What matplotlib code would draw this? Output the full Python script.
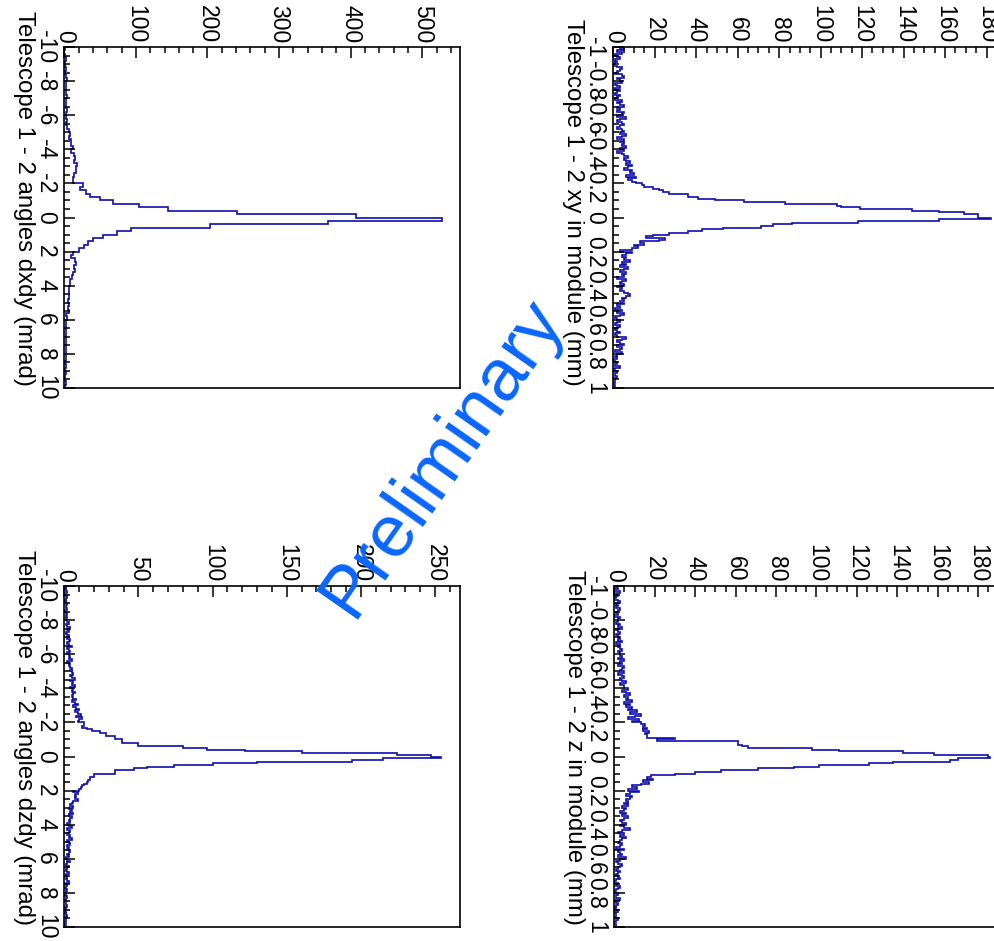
import numpy as np
import matplotlib
matplotlib.use("Agg")
import matplotlib.pyplot as plt
import matplotlib.transforms as mtransforms
from matplotlib.ticker import FixedLocator, MultipleLocator

plt.rcParams['font.family'] = ['Liberation Sans', 'DejaVu Sans']

# histogram contents (counts per bin)
xy_counts = [3, 5, 2, 4, 1, 2, 3, 1, 2, 1, 0, 2, 4, 3, 2, 1, 4, 5, 2, 3, 4, 1,
             2, 3, 1, 3, 2, 1, 3, 2, 1, 4, 2, 3, 5, 2, 3, 2, 5, 4, 2, 6, 3, 2,
             4, 5, 3, 2, 4, 5, 3, 6, 4, 2, 5, 3, 5, 4, 6, 3, 5, 2, 4, 5,
             7, 5, 6, 8, 6, 9, 7, 5, 9, 8, 10, 6, 11, 7, 9,
             11, 14, 15, 19, 22, 24, 27, 36, 36, 41, 49, 63, 83, 108, 110, 119,
             144, 157, 169, 176, 176, 182,
             157, 118, 86, 77, 71, 53, 43, 36, 27, 19, 16, 25, 22, 13, 15, 10,
             12, 9, 3, 9, 6, 4, 6,
             5, 8, 4, 6, 3, 7, 5, 3, 6, 4, 5, 2, 6, 4, 3, 5, 2, 4, 3, 5, 7, 8, 6,
             4, 5, 3, 5, 2, 3, 1, 4, 2, 5, 3, 1, 2, 3, 2, 1, 3, 2, 1, 2, 3, 1, 2,
             6, 4, 2, 3, 5, 2, 4, 3, 1, 4, 2,
             1, 2, 0, 1, 2, 1, 3, 1, 0, 2, 1, 1, 2, 0, 1, 1, 0, 1, 1]

z_counts = [1, 2, 0, 3, 1, 2, 1, 0, 2, 3, 1, 2, 1, 3, 2, 1, 2, 0, 3, 2,
            2, 1, 3, 2, 4, 1, 2, 3, 1, 2, 3, 2, 4, 1, 3, 2, 3, 4, 2, 3,
            3, 4, 2, 5, 3, 4, 2, 5, 4, 3, 5, 2, 4, 5, 3, 4, 6, 3, 5,
            5, 7, 4, 6, 8, 5, 7, 6, 9, 5, 8, 6, 9, 7, 11, 8, 13, 10, 7, 12, 9,
            13, 15, 14, 16, 14, 17, 15, 16, 16, 30, 21, 61, 61, 63, 66, 98,
            111, 143, 158, 185, 186,
            170, 166, 138, 126, 101, 89, 71, 53, 40, 30, 18, 16, 19, 14, 17,
            13, 9, 11, 7, 12, 8, 6, 9,
            8, 6, 7, 5, 7, 4, 6, 5, 3, 6, 4, 7, 5, 3,
            4, 6, 3, 5, 8, 4, 2, 5, 3, 6, 4, 3,
            2, 4, 3, 1, 5, 2, 3, 4, 2, 6, 3, 1, 2, 4, 3, 2, 1, 3, 2,
            1, 2, 3, 1, 0, 2, 1, 3, 2, 1, 0, 2, 1, 1, 3, 0, 1, 2, 1, 0, 1, 2,
            0, 1, 1, 0, 2, 1, 0, 1, 1]

dxdy_counts = [1, 0, 1, 2, 1, 1, 2, 1, 2, 4, 3, 2, 3, 2, 4, 3, 2, 3, 4, 3,
               2, 4, 3, 4, 6, 8, 7, 10, 9, 12, 10, 13, 15, 14, 18, 17, 17, 13, 12,
               12, 26, 22, 31, 36, 50, 68, 105, 145, 241, 408, 527, 369, 203,
               93, 74, 54, 40, 33, 28, 20, 12,
               10, 15, 16, 14, 15, 12, 11, 8, 8, 7, 6, 7, 6, 5, 7, 5, 6,
               3, 4, 3, 3, 2, 3, 2, 3, 2, 3, 2, 2, 3, 2, 1, 2, 1, 2, 1, 1, 2, 1]

dzdy_counts = [1, 0, 1, 2, 0, 1, 2, 1, 0, 1, 2, 1, 1, 2, 0, 1, 2, 1, 2, 1,
               2, 3, 1, 2, 4, 2, 3, 1, 2, 3, 2, 4, 3, 2, 3, 5, 2, 3, 4, 2, 3, 4,
               3, 5, 2, 4, 3, 4, 5,
               4, 5, 6, 4, 5, 7, 4, 6, 5, 7, 4, 6, 5, 7, 6, 5,
               6, 8, 5, 7, 9, 6, 8, 10, 7, 9, 11, 8, 12, 10, 9,
               13, 13, 12, 15, 19, 24, 28, 28, 34, 34, 39, 39, 50, 50, 80, 96,
               122, 160, 224, 247, 254,
               215, 194, 130, 100, 74, 56, 47, 34, 34, 20, 20, 17, 17, 16, 15,
               13, 12, 11, 10, 6, 9, 7, 8,
               7, 9, 6, 5, 4, 6, 3, 5, 4, 6, 3, 5, 4, 3,
               4, 2, 3, 5, 2, 4, 3, 2, 4, 3, 5, 2, 3, 4, 2, 3, 2, 4, 3,
               2, 3, 1, 2, 4, 2, 1, 3, 2, 1, 2, 3, 1, 2, 1, 2, 3, 1, 2,
               1, 0, 2, 1, 1, 0, 2, 1, 0, 1, 1, 2, 0, 1, 1, 0, 1, 2, 0, 1, 1, 0, 1, 0]

pos_edges = np.linspace(-1, 1, len(xy_counts) + 1)
z_edges = np.linspace(-1, 1, len(z_counts) + 1)
dxdy_edges = np.linspace(-10, 10, len(dxdy_counts) + 1)
dzdy_edges = np.linspace(-10, 10, len(dzdy_counts) + 1)

pos_ticks = [-1, -0.8, -0.6, -0.4, -0.2, 0, 0.2, 0.4, 0.6, 0.8, 1]
pos_labels = ["-1", "-0.8", "-0.6", "-0.4", "-0.2", "0", "0.2", "0.4", "0.6", "0.8", "1"]
ang_ticks = [-10, -8, -6, -4, -2, 0, 2, 4, 6, 8, 10]
ang_labels = ["-10", "-8", "-6", "-4", "-2", "0", "2", "4", "6", "8", "10"]

W, H = 994, 941
line_col = "#0d0db0"
fs = 16.5

fig = plt.figure(figsize=(W / 100, H / 100), dpi=100)


def panel(box, counts, edges, title, xmax, cmaj, cmin, vticks, vlabels, vmin, cut):
    left, top, right, bottom = box
    ax = fig.add_axes([left / W, (H - bottom) / H, (right - left) / W, (bottom - top) / H])
    ax.stairs(counts, edges, orientation="horizontal", color=line_col, linewidth=1.2)
    ax.set_xlim(0, xmax)
    ax.set_ylim(edges[-1], edges[0])
    ax.xaxis.tick_top()
    ax.xaxis.set_major_locator(MultipleLocator(cmaj))
    ax.xaxis.set_minor_locator(MultipleLocator(cmin))
    ax.yaxis.set_major_locator(FixedLocator(vticks))
    ax.set_yticklabels(vlabels)
    ax.yaxis.set_minor_locator(MultipleLocator(vmin))
    ax.tick_params(which="both", direction="in", width=1.1, labelsize=fs)
    ax.tick_params(which="major", length=8)
    ax.tick_params(which="minor", length=4)
    ax.tick_params(axis="x", which="both", top=True, bottom=False, pad=3)
    ax.tick_params(axis="y", which="both", left=True, right=False, pad=5)
    for lab in ax.get_xticklabels():
        lab.set_rotation(-90)
        lab.set_ha("center")
        lab.set_va("bottom")
    for lab in ax.get_yticklabels():
        lab.set_rotation(-90)
        lab.set_va("center")
        lab.set_ha("right")
    for s in ax.spines.values():
        s.set_linewidth(1.2)
    if cut:
        ax.spines["right"].set_visible(False)
    trans = mtransforms.offset_copy(ax.transAxes, fig=fig, x=-40, y=2, units="dots")
    ax.text(0, 0, title, transform=trans, rotation=-90, ha="center", va="bottom", fontsize=17.3)
    return ax


panel((64.3, 47, 460, 388), dxdy_counts, dxdy_edges, "Telescope 1 - 2 angles dxdy (mrad)",
      552.7, 100, 20, ang_ticks, ang_labels, 0.5, False)
panel((613.3, 47, 994, 388), xy_counts, pos_edges, "Telescope 1 - 2 xy in module (mm)",
      183.6, 20, 5, pos_ticks, pos_labels, 0.05, True)
panel((64.3, 586, 460, 927), dzdy_counts, dzdy_edges, "Telescope 1 - 2 angles dzdy (mrad)",
      266.8, 50, 10, ang_ticks, ang_labels, 0.5, False)
panel((614.3, 586, 994, 927), z_counts, z_edges, "Telescope 1 - 2 z in module (mm)",
      187.8, 20, 5, pos_ticks, pos_labels, 0.05, True)

fig.text(442 / W, 1 - 457 / H, "Preliminary", rotation=55, color="#0a66ff",
         fontsize=53, ha="center", va="center", rotation_mode="anchor")

fig.savefig("out.png", dpi=100)
